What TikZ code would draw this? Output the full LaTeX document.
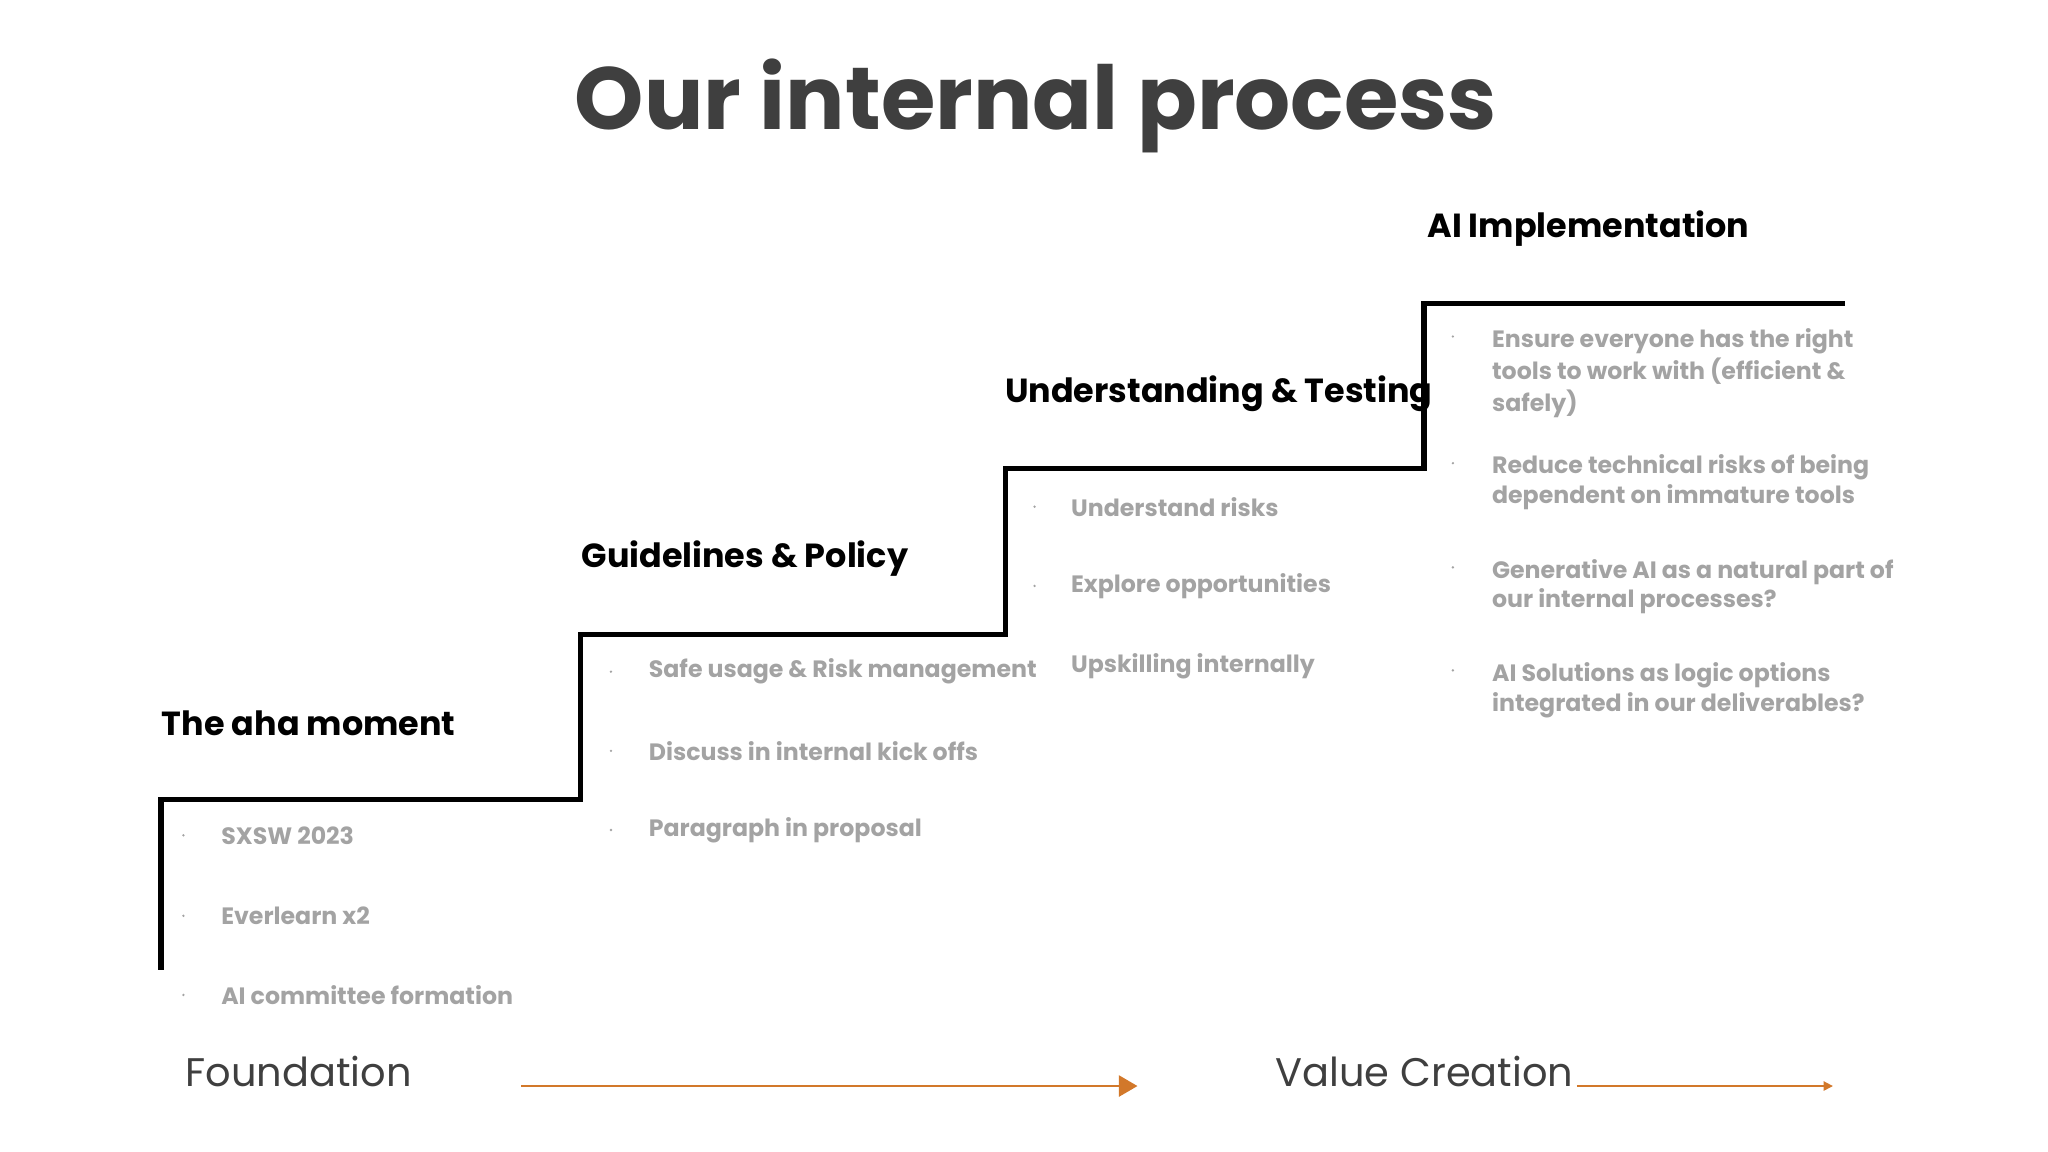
\documentclass[tikz,border=0pt]{standalone}
\usepackage{fontspec}
\setmainfont{Poppins}
\usetikzlibrary{arrows.meta}
\definecolor{titlegray}{HTML}{3F3F3F}
\definecolor{itemgray}{HTML}{A3A3A3}
\definecolor{orng}{HTML}{D2782A}
\tikzset{
  head/.style={anchor=west,font=\fontsize{7.2}{8}\selectfont\bfseries,text=black,inner sep=0pt},
  item/.style={anchor=west,font=\fontsize{5.1}{5.2}\selectfont\bfseries,text=itemgray,inner sep=0pt},
  mitem/.style={anchor=north west,align=left,font=\fontsize{5.1}{5.2}\selectfont\bfseries,text=itemgray,inner sep=0pt},
  dot/.style={circle,fill=itemgray,inner sep=0pt,minimum size=0.02cm},
  foot/.style={anchor=west,font=\fontsize{8.6}{9}\selectfont,text=titlegray,inner sep=0pt},
}
\begin{document}
\begin{tikzpicture}[x=0.01cm,y=-0.01cm]
\useasboundingbox (0,0) rectangle (1552,873);
\node[font=\fontsize{19}{20}\selectfont\bfseries,text=titlegray] (title) at (785,80) {Our internal process};
% stairs
\coordinate (s0) at (122,735); \coordinate (s1) at (122,606); \coordinate (s2) at (440,606);
\coordinate (s3) at (440,481); \coordinate (s4) at (762,481); \coordinate (s5) at (762,355);
\coordinate (s6) at (1079,355); \coordinate (s7) at (1079,230); \coordinate (s8) at (1398,230);
\draw[line width=1.15pt] (s0)--(s1)--(s2)--(s3)--(s4)--(s5)--(s6)--(s7)--(s8);
% headers
\node[head] (h1) at (122,548) {The aha moment};
\node[head] (h2) at (440,423) {Guidelines \& Policy};
\node[head] (h3) at (761,298) {Understanding \& Testing};
\node[head] (h4) at (1081,173) {AI Implementation};
% col1
\node[dot] (d11) at (139,633) {}; \node[item] (i11) at (167,633) {SXSW 2023};
\node[dot] (d12) at (139,694) {}; \node[item] (i12) at (167,694) {Everlearn x2};
\node[dot] (d13) at (139,754) {}; \node[item] (i13) at (167,754) {AI committee formation};
% col2
\node[dot] (d21) at (463,509) {}; \node[item] (i21) at (491,509) {Safe usage \& Risk management};
\node[dot] (d22) at (463,569) {}; \node[item] (i22) at (491,569) {Discuss in internal kick offs};
\node[dot] (d23) at (463,629) {}; \node[item] (i23) at (491,629) {Paragraph in proposal};
% col3
\node[dot] (d31) at (784,384) {}; \node[item] (i31) at (811,384) {Understand risks};
\node[dot] (d32) at (784,444) {}; \node[item] (i32) at (811,444) {Explore opportunities};
\node[dot] (d33) at (784,505) {}; \node[item] (i33) at (811,505) {Upskilling internally};
% col4
\node[dot] (d41) at (1101,255) {}; \node[mitem] (i41) at (1130,248) {Ensure everyone has the right\\tools to work with (efficient \&\\safely)};
\node[dot] (d42) at (1101,351) {}; \node[mitem] (i42) at (1130,344) {Reduce technical risks of being\\dependent on immature tools};
\node[dot] (d43) at (1101,430) {}; \node[mitem] (i43) at (1130,423) {Generative AI as a natural part of\\our internal processes?};
\node[dot] (d44) at (1101,508) {}; \node[mitem] (i44) at (1130,501) {AI Solutions as logic options\\integrated in our deliverables?};
% footer
\node[foot] (f1) at (140,812) {Foundation};
\node[foot] (f2) at (966,812) {Value Creation};
\coordinate (a1) at (395,823); \coordinate (a2) at (862,823);
\coordinate (b1) at (1195,823); \coordinate (b2) at (1389,823);
\draw[orng,line width=0.6pt,-{Triangle[length=4pt,width=4.5pt]}] (a1)--(a2);
\draw[orng,line width=0.35pt,-{Triangle[length=2pt,width=2pt]}] (b1)--(b2);
\end{tikzpicture}
\end{document}
